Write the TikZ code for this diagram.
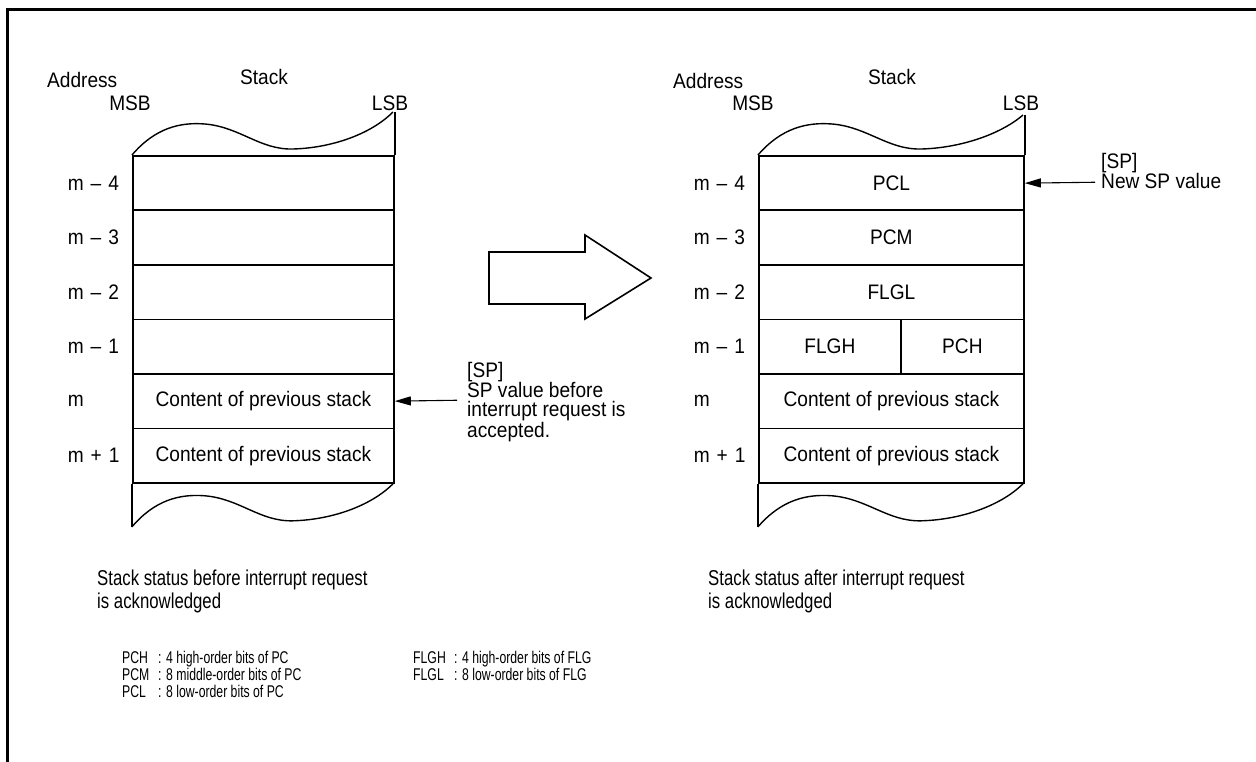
\documentclass[tikz,border=0pt]{standalone}
\usepackage{fontspec}
\setmainfont{Liberation Sans}[FakeStretch=0.91]
\newfontfamily\capfont{Liberation Sans}[FakeStretch=0.78]
\newfontfamily\legfont{Liberation Sans}[FakeStretch=0.72]
\usetikzlibrary{arrows.meta}
\begin{document}
\begin{tikzpicture}[x=1pt,y=-1pt,
  every node/.style={inner sep=0pt, font=\fontsize{21}{18.5}\selectfont},
  cell/.style={draw, line width=1.8pt, minimum height=54.5pt, anchor=north west},
  wave/.style={line width=1.4pt},
  side/.style={line width=1.8pt},
  rowlab/.style={anchor=east, text width=58pt, align=left, xshift=-6pt},
  sparrow/.style={line width=1.1pt, -{Triangle[length=16pt,width=9pt]}},
  captext/.style={anchor=north west, align=left, font=\capfont\fontsize{21.5}{22.5}\selectfont},
  legtext/.style={anchor=north west, font=\legfont\fontsize{17}{15.5}\selectfont}]
\useasboundingbox (0,0) rectangle (1256,762);
% frame
\draw[line width=3pt] (7,762) -- (7,10) -- (1256,10);

% ---------- left stack ----------
\node[anchor=west] (addrL) at (47,80) {Address};
\node (stackL) at (264,77) {Stack};
\node (msbL) at (130,103) {MSB};
\node (lsbL) at (390,103) {LSB};
\node[cell, minimum width=261pt] (l4) at (132,155) {};
\node[cell, minimum width=261pt] (l3) at (132,209.5) {};
\node[cell, minimum width=261pt] (l2) at (132,264) {};
\node[cell, minimum width=261pt] (l1) at (132,318.5) {};
\node[cell, minimum width=261pt] (lm) at (132,373) {Content of previous stack};
\node[cell, minimum width=261pt] (lp) at (132,427.5) {Content of previous stack};
\begin{scope}[shift={(l4.north west)}]
  \draw[wave] (0,0) .. controls (23,-27) and (48,-33) .. (73,-31)
      .. controls (108,-28) and (128,-5) .. (161,-6)
      .. controls (198,-7) and (238,-20) .. (261,-43);
\end{scope}
\draw[side] (l4.north east) -- ++(0,-43);
\draw[side] (lp.south west) -- ++(0,43);
\begin{scope}[shift={(lp.south west)}]
  \draw[wave] (0,43) .. controls (23,16) and (48,10) .. (73,12)
      .. controls (108,15) and (128,38) .. (161,37)
      .. controls (198,36) and (238,23) .. (261,0);
\end{scope}
\node[rowlab] (ll4) at (l4.west) {m – 4};
\node[rowlab] (ll3) at (l3.west) {m – 3};
\node[rowlab] (ll2) at (l2.west) {m – 2};
\node[rowlab] (ll1) at (l1.west) {m – 1};
\node[rowlab] (llm) at (lm.west) {m};
\node[rowlab] (llp) at (lp.west) {m + 1};
\coordinate (spa) at (457,400.25);
\draw[sparrow] (spa) -- (lm.east);
\node[anchor=north west, align=left] (spt1) at (467,362)
  {[SP]\\SP value before\\interrupt request is\\accepted.};

% ---------- big arrow ----------
\draw[line width=1.6pt] (489,252) -- (585,252) -- (585,235) -- (651,278)
  -- (585,319) -- (585,304) -- (489,304) -- cycle;

% ---------- right stack ----------
\node[anchor=west] (addrR) at (673,81) {Address};
\node (stackR) at (892,77) {Stack};
\node (msbR) at (753,103) {MSB};
\node (lsbR) at (1021,103) {LSB};
\node[cell, minimum width=265pt] (r4) at (758,155) {PCL};
\node[cell, minimum width=265pt] (r3) at (758,209.5) {PCM};
\node[cell, minimum width=265pt] (r2) at (758,264) {FLGL};
\node[cell, minimum width=142pt] (r1a) at (758,318.5) {FLGH};
\node[cell, minimum width=123pt] (r1b) at (900,318.5) {PCH};
\node[cell, minimum width=265pt] (rm) at (758,373) {Content of previous stack};
\node[cell, minimum width=265pt] (rp) at (758,427.5) {Content of previous stack};
\begin{scope}[shift={(r4.north west)}, xscale=265/261]
  \draw[wave] (0,0) .. controls (23,-27) and (48,-33) .. (73,-31)
      .. controls (108,-28) and (128,-5) .. (161,-6)
      .. controls (198,-7) and (238,-20) .. (261,-40);
\end{scope}
\draw[side] (r4.north east) -- ++(0,-40);
\draw[side] (rp.south west) -- ++(0,43);
\begin{scope}[shift={(rp.south west)}, xscale=265/261]
  \draw[wave] (0,43) .. controls (23,16) and (48,10) .. (73,12)
      .. controls (108,15) and (128,38) .. (161,37)
      .. controls (198,36) and (238,23) .. (261,0);
\end{scope}
\node[rowlab] (rl4) at (r4.west) {m – 4};
\node[rowlab] (rl3) at (r3.west) {m – 3};
\node[rowlab] (rl2) at (r2.west) {m – 2};
\node[rowlab] (rl1) at (r1a.west) {m – 1};
\node[rowlab] (rlm) at (rm.west) {m};
\node[rowlab] (rlp) at (rp.west) {m + 1};
\coordinate (spb) at (1095,182.25);
\draw[sparrow] (spb) -- (r4.east);
\node[anchor=north west, align=left] (spt2) at (1101,153)
  {[SP]\\New SP value};

% ---------- captions ----------
\node[captext] (capL) at (97,570) {Stack status before interrupt request\\is acknowledged};
\node[captext] (capR) at (708,570) {Stack status after interrupt request\\is acknowledged};

% ---------- legend ----------
\node[legtext] (legA) at (122,651) {\begin{tabular}{@{}p{36pt}@{}l@{}}
PCH & : 4 high-order bits of PC\\
PCM & : 8 middle-order bits of PC\\
PCL & : 8 low-order bits of PC
\end{tabular}};
\node[legtext] (legB) at (413,651) {\begin{tabular}{@{}p{41pt}@{}l@{}}
FLGH & : 4 high-order bits of FLG\\
FLGL & : 8 low-order bits of FLG
\end{tabular}};
\end{tikzpicture}
\end{document}
